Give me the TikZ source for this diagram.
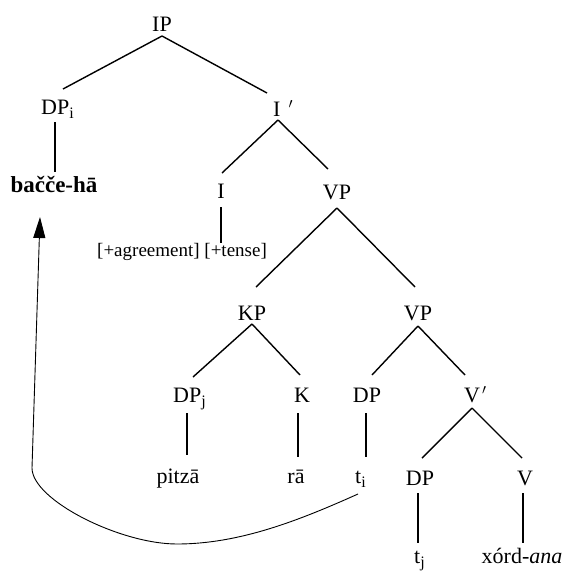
\documentclass[tikz,border=0pt]{standalone}
\usepackage{fontspec}
\setmainfont{Liberation Serif}
\usetikzlibrary{arrows.meta}
\newcommand{\mysub}[1]{\raisebox{-4.5pt}{\fontsize{16}{18}\selectfont #1}}
\begin{document}
\begin{tikzpicture}[x=1pt,y=-1pt,
  lbl/.style={font=\fontsize{22}{26}\selectfont, inner sep=0pt, anchor=base},
  lblw/.style={lbl, anchor=base west},
  small/.style={font=\fontsize{19}{22}\selectfont, inner sep=0pt, anchor=base west},
  branch/.style={line width=1.4pt},
  move/.style={line width=0.9pt, -{Triangle[length=21pt,width=12pt]}}]
\useasboundingbox (0,0) rectangle (564,581);
% nodes
\node[lbl] (IP) at (162,31) {IP};
\node[lblw] (DPi) at (41,114) {DP\mysub{i}};
\node[lblw] (Ib) at (273,116) {I\hspace{8pt}$'$};
\node[lbl, font={\fontsize{23}{27}\selectfont\bfseries}] (bacche) at (54,192) {bačče-hā};
\node[lbl] (I) at (221,198) {I};
\node[lbl] (VP) at (337,199) {VP};
\node[small] (feat) at (97,256) {[+agreement] [+tense]};
\node[lbl] (KP) at (252,320) {KP};
\node[lbl] (VP2) at (418,320) {VP};
\node[lblw] (DPj) at (173,402) {DP\mysub{j}};
\node[lbl] (K) at (302,402) {K};
\node[lbl] (DP3) at (367,402) {DP};
\node[lblw] (Vb) at (464,402) {V\hspace{2pt}$'$};
\node[lbl] (pitza) at (178,483) {pitzā};
\node[lbl] (ra) at (296,483) {rā};
\node[lblw] (ti) at (355,483) {t\mysub{i}};
\node[lbl] (DP4) at (420,485) {DP};
\node[lbl] (V) at (525,485) {V};
\node[lblw] (tj) at (414,563) {t\mysub{j}};
\node[lbl] (xord) at (522,563) {xórd-\textit{ana}};
% branches
\draw[branch] ([shift={(0,5)}]IP.base) -- ([shift={(22,-25)}]DPi.base west);
\draw[branch] ([shift={(0,5)}]IP.base) -- ([shift={(-6,-23)}]Ib.base west);
\draw[branch] ([shift={(14,8)}]DPi.base west) -- ([shift={(1,-20)}]bacche.base);
\draw[branch] ([shift={(5,4)}]Ib.base west) -- ([shift={(1,-25)}]I.base);
\draw[branch] ([shift={(5,4)}]Ib.base west) -- ([shift={(-9,-30)}]VP.base);
\draw[branch] ([shift={(0,9)}]I.base) -- ([shift={(124,-13)}]feat.base west);
\draw[branch] ([shift={(0,9)}]VP.base) -- ([shift={(4,-33)}]KP.base);
\draw[branch] ([shift={(0,9)}]VP.base) -- ([shift={(-3,-33)}]VP2.base);
\draw[branch] ([shift={(0,4)}]KP.base) -- ([shift={(20,-25)}]DPj.base west);
\draw[branch] ([shift={(0,4)}]KP.base) -- ([shift={(-2,-27)}]K.base);
\draw[branch] ([shift={(0,6)}]VP2.base) -- ([shift={(5,-27)}]DP3.base);
\draw[branch] ([shift={(0,6)}]VP2.base) -- ([shift={(1,-27)}]Vb.base west);
\draw[branch] ([shift={(14,11)}]DPj.base west) -- ([shift={(9,-28)}]pitza.base);
\draw[branch] ([shift={(-4,11)}]K.base) -- ([shift={(2,-26)}]ra.base);
\draw[branch] ([shift={(-1,11)}]DP3.base) -- ([shift={(11,-26)}]ti.base west);
\draw[branch] ([shift={(8,6)}]Vb.base west) -- ([shift={(2,-27)}]DP4.base);
\draw[branch] ([shift={(8,6)}]Vb.base west) -- ([shift={(-3,-27)}]V.base);
\draw[branch] ([shift={(-2,8)}]DP4.base) -- ([shift={(4,-20)}]tj.base west);
\draw[branch] ([shift={(-2,8)}]V.base) -- ([shift={(1,-20)}]xord.base);
% movement arrow
\draw[move] ([shift={(3,11)}]ti.base west) .. controls (300,520) and (240,544) .. (177,544)
  .. controls (120,544) and (32,500) .. (32,468) -- ([shift={(-14,25)}]bacche.base);
\end{tikzpicture}
\end{document}
